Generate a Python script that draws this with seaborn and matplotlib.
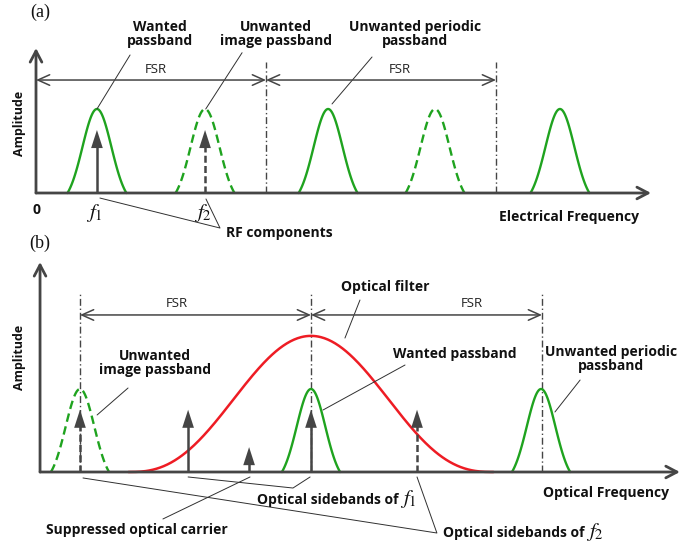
import numpy as np
import pandas as pd
import matplotlib
matplotlib.use("Agg")
import matplotlib.pyplot as plt
import seaborn as sns

# ---------------- data (schematic units: FSR = 1, passband peak = 1) ----------------
# panel (a): electrical domain
a_centers = [0.265, 0.735, 1.27, 1.735, 2.278]
a_dashed = [False, True, False, True, False]
a_halfwidth = 0.128
a_peak = 1.0
a_rf_pos = [0.265, 0.735]
a_rf_height = [0.75, 0.75]
a_rf_dashed = [False, True]
a_fsr_marks = [0.0, 1.0, 2.0]

# panel (b): optical domain
b_centers = [0.0, 1.0, 1.996]
b_dashed = [True, False, False]
b_halfwidth = 0.126
b_peak = 1.0
b_arrow_pos = [0.0, 0.468, 0.732, 1.0, 1.459]
b_arrow_height = [0.75, 0.75, 0.30, 0.75, 0.75]
b_arrow_dashed = [True, False, False, False, True]
filter_center = 1.0
filter_peak = 1.64
filter_halfwidth = 0.79
b_fsr_marks = [0.0, 1.0, 2.0]

GREEN = "#1fa31f"
RED = "#ee1c24"
GRAY = "#454545"
LEAD = "#303030"
BELL_SIGMA = 0.49  # passband bell width relative to its half base

sns.set_theme(style="white")
plt.rcParams["font.family"] = ["Open Sans", "DejaVu Sans"]
plt.rcParams["mathtext.fontset"] = "stix"

fig = plt.figure(figsize=(6.98, 5.46), dpi=100)
ax_a = fig.add_axes([0, 0, 1, 1])
ax_a.set_xlim(-36 / 230, (698 - 36) / 230)
ax_a.set_ylim((193 - 546) / 84, 193 / 84)
ax_b = fig.add_axes([0, 0, 1, 1])
ax_b.set_xlim(-80 / 231, (698 - 80) / 231)
ax_b.set_ylim((472 - 546) / 83, 472 / 83)
for ax in (ax_a, ax_b):
    ax.axis("off")


def passband_frame(centers, dashed, hw, peak):
    rows = []
    g1 = np.exp(-1 / (2 * BELL_SIGMA ** 2))
    for i, (c, d) in enumerate(zip(centers, dashed)):
        x = np.linspace(c - hw, c + hw, 121)
        u = (x - c) / hw
        y = peak * (np.exp(-u ** 2 / (2 * BELL_SIGMA ** 2)) - g1) / (1 - g1)
        rows.append(pd.DataFrame({"x": x, "y": y, "id": i, "dashed": d}))
    return pd.concat(rows, ignore_index=True)


def draw_passbands(ax, df):
    solid = df[~df["dashed"]]
    dash = df[df["dashed"]]
    sns.lineplot(data=solid, x="x", y="y", units="id", estimator=None, sort=False,
                 color=GREEN, lw=1.7, ax=ax, legend=False)
    sns.lineplot(data=dash, x="x", y="y", units="id", estimator=None, sort=False,
                 color=GREEN, lw=1.7, ax=ax, legend=False, linestyle=(0, (3.6, 2.0)))


def axis_arrow(ax, start, end):
    ax.annotate("", xy=end, xytext=start,
                arrowprops=dict(arrowstyle="->,head_length=0.8,head_width=0.42",
                                mutation_scale=10, lw=2.0, color=GRAY,
                                shrinkA=0, shrinkB=0))


def fsr_arrow(ax, x0, x1, y):
    ax.annotate("", xy=(x1, y), xytext=(x0, y),
                arrowprops=dict(arrowstyle="<->,head_length=0.85,head_width=0.38",
                                mutation_scale=10, lw=1.1, color=GRAY,
                                shrinkA=0, shrinkB=0))


def comp_arrow(ax, x, tip, dashed, hl):
    ls = (0, (2.8, 1.3)) if dashed else "-"
    ax.plot([x, x], [0, tip - hl * 0.6], color=GRAY, lw=1.8, linestyle=ls,
            solid_capstyle="butt")
    ax.annotate("", xy=(x, tip), xytext=(x, tip - hl),
                arrowprops=dict(arrowstyle="-|>,head_length=1.3,head_width=0.42",
                                mutation_scale=10, lw=0, color=GRAY,
                                shrinkA=0, shrinkB=0))


def leader(ax, xs, ys):
    ax.plot(xs, ys, color=LEAD, lw=0.7)


BOLD = dict(fontsize=10, fontweight="bold", color="#111111", ha="center", va="center")
FSR_KW = dict(fontsize=9.5, color="#222222", ha="center", va="center")
MATH_KW = dict(fontsize=15, color="#111111")

# ---------------- panel (a) ----------------
ax = ax_a
for x in a_fsr_marks[1:]:
    ax.plot([x, x], [0, 1.56], color=GRAY, lw=1.0, linestyle=(0, (5, 2, 1, 2)))
draw_passbands(ax, passband_frame(a_centers, a_dashed, a_halfwidth, a_peak))
for x, h, d in zip(a_rf_pos, a_rf_height, a_rf_dashed):
    comp_arrow(ax, x, h, d, 0.21)
axis_arrow(ax, (0, 0), (2.674, 0))
axis_arrow(ax, (0, 0), (0, 1.726))
for x0, x1 in zip(a_fsr_marks[:-1], a_fsr_marks[1:]):
    fsr_arrow(ax, x0, x1, 1.345)
ax.text(0.52, 1.47, "FSR", **FSR_KW)
ax.text(1.58, 1.47, "FSR", **FSR_KW)

ax.text(0.539, 1.893, "Wanted\npassband", linespacing=1.05, **BOLD)
leader(ax, [0.265, 0.409], [1.0, 1.643])
ax.text(1.043, 1.893, "Unwanted\nimage passband", linespacing=1.05, **BOLD)
leader(ax, [0.738, 0.896], [1.0, 1.67])
ax.text(1.648, 1.893, "Unwanted periodic\npassband", linespacing=1.05, **BOLD)
leader(ax, [1.287, 1.461], [1.06, 1.619])

ax.text(0.004, -0.205, "0", **BOLD)
ax.text(0.252, -0.235, r"$f_1$", ha="center", va="center", **MATH_KW)
ax.text(0.724, -0.235, r"$f_2$", ha="center", va="center", **MATH_KW)
ax.text(1.057, -0.476, "RF components", **BOLD)
leader(ax, [0.278, 0.80, 0.739], [-0.06, -0.417, -0.071])
ax.text(2.317, -0.286, "Electrical Frequency", **BOLD)
ax.text(-0.07, 0.833, "Amplitude", rotation=90, **dict(BOLD, fontsize=9))
ax.text(0.017, 2.155, "(a)", fontsize=13, family="Liberation Serif",
        ha="center", va="center", color="#111111")

# ---------------- panel (b) ----------------
ax = ax_b
for x in b_fsr_marks:
    ax.plot([x, x], [0, 2.157], color=GRAY, lw=1.0, linestyle=(0, (5, 2, 1, 2)))
xf = np.linspace(filter_center - filter_halfwidth, filter_center + filter_halfwidth, 301)
yf = filter_peak * ((1 + np.cos(np.pi * (xf - filter_center) / filter_halfwidth)) / 2) ** 1.3
sns.lineplot(x=xf, y=yf, sort=False, color=RED, lw=1.8, ax=ax, legend=False)
draw_passbands(ax, passband_frame(b_centers, b_dashed, b_halfwidth, b_peak))
for x, h, d in zip(b_arrow_pos, b_arrow_height, b_arrow_dashed):
    comp_arrow(ax, x, h, d, 0.215)
axis_arrow(ax, (-0.173, 0), (2.597, 0))
axis_arrow(ax, (-0.173, 0), (-0.173, 2.53))
for x0, x1 in zip(b_fsr_marks[:-1], b_fsr_marks[1:]):
    fsr_arrow(ax, x0, x1, 1.892)
ax.text(0.42, 2.03, "FSR", **FSR_KW)
ax.text(1.697, 2.03, "FSR", **FSR_KW)

ax.text(0.325, 1.313, "Unwanted\nimage passband", linespacing=1.05, **BOLD)
leader(ax, [0.074, 0.208], [0.687, 1.012])
ax.text(1.32, 2.229, "Optical filter", **BOLD)
leader(ax, [1.147, 1.212], [1.614, 2.072])
ax.text(1.623, 1.422, "Wanted passband", **BOLD)
leader(ax, [1.052, 1.407], [0.747, 1.289])
ax.text(2.299, 1.361, "Unwanted periodic\npassband", linespacing=1.05, **BOLD)
leader(ax, [2.056, 2.165], [0.723, 1.108])
ax.text(2.277, -0.253, "Optical Frequency", **BOLD)

LEFT_BOLD = dict(BOLD, ha="left", va="baseline")
ax.text(0.766, -0.39, "Optical sidebands of", **LEFT_BOLD)
ax.text(1.385, -0.39, r"$f_1$", ha="left", va="baseline", **MATH_KW)
leader(ax, [0.468, 0.922, 0.996], [-0.06, -0.193, -0.06])
ax.text(1.571, -0.787, "Optical sidebands of", **LEFT_BOLD)
ax.text(2.19, -0.787, r"$f_2$", ha="left", va="baseline", **MATH_KW)
leader(ax, [0.013, 1.545, 1.459], [-0.072, -0.735, -0.06])
ax.text(0.247, -0.699, "Suppressed optical carrier", **BOLD)
leader(ax, [0.359, 0.736], [-0.566, -0.06])
ax.text(-0.26, 1.379, "Amplitude", rotation=90, **dict(BOLD, fontsize=9))
ax.text(-0.173, 2.759, "(b)", fontsize=13, family="Liberation Serif",
        ha="center", va="center", color="#111111")

fig.savefig("out.png", dpi=100)
